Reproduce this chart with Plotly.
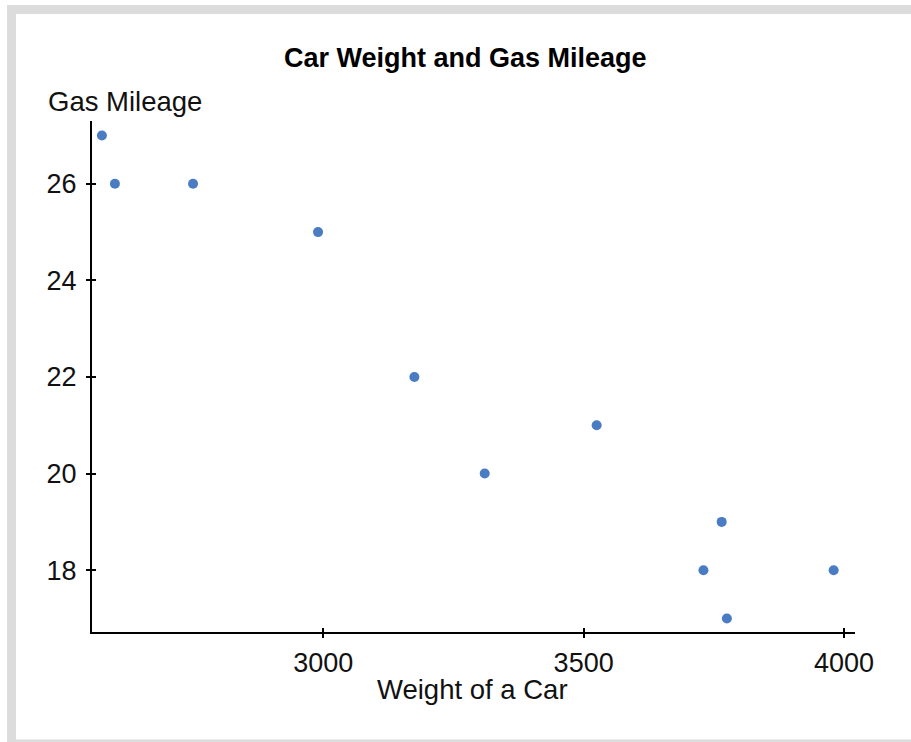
import plotly.graph_objects as go

# Data
weights = [2575, 2600, 2750, 2990, 3175, 3310, 3525, 3765, 3730, 3775, 3980]
mileage = [27, 26, 26, 25, 22, 20, 21, 19, 18, 17, 18]
x_ticks = [3000, 3500, 4000]
y_ticks = [18, 20, 22, 24, 26]

title_text = "Car Weight and Gas Mileage"
x_title = "Weight of a Car"
y_title = "Gas Mileage"

W, H = 911, 742
ML, MR, MT, MB = 92, 56, 121, 110
PW = W - ML - MR
PH = H - MT - MB


def px(xpix):
    return (xpix - ML) / PW


def py(ypix):
    return (H - MB - ypix) / PH


FONT = "Liberation Sans, Arial, sans-serif"
FS = 27
FS_LBL = 27.5

fig = go.Figure()
fig.add_trace(go.Scatter(
    x=weights, y=mileage, mode="markers",
    marker=dict(size=10, color="#4a7cc4"),
    showlegend=False, hoverinfo="x+y",
))

xr = [2556, 4021]
yr = [16.72, 27.30]

axis_common = dict(showgrid=False, zeroline=False,
                   tickfont=dict(family=FONT, size=FS, color="#111"))

fig.update_layout(
    width=W, height=H,
    margin=dict(l=ML, r=MR, t=MT, b=MB, pad=0),
    paper_bgcolor="white", plot_bgcolor="white",
    xaxis=dict(range=xr, tickvals=x_ticks, showline=True, linecolor="#000",
               linewidth=2, ticks="outside", ticklen=4, tickwidth=1.5,
               tickcolor="#000", ticklabelstandoff=2, **axis_common),
    yaxis=dict(range=yr, tickvals=y_ticks, showline=True, linecolor="#000",
               linewidth=2, ticks="outside", ticklen=4, tickwidth=1.5,
               tickcolor="#000", ticklabelstandoff=4, **axis_common),
    xaxis2=dict(range=xr, tickvals=x_ticks, overlaying="x", anchor="y",
                side="bottom", showline=False, ticks="inside", ticklen=4,
                tickwidth=1.5, tickcolor="#000", showticklabels=False,
                showgrid=False, zeroline=False),
    yaxis2=dict(range=yr, tickvals=y_ticks, overlaying="y", anchor="x",
                side="left", showline=False, ticks="inside", ticklen=4,
                tickwidth=1.5, tickcolor="#000", showticklabels=False,
                showgrid=False, zeroline=False),
    shapes=[dict(type="rect", xref="paper", yref="paper",
                 x0=px(11.5), x1=px(925), y0=py(9.5), y1=py(744),
                 line=dict(color="#dcdcdc", width=9), layer="below")],
    annotations=[
        dict(text="<b>" + title_text + "</b>", xref="paper", yref="paper",
             x=px(465), y=py(58), xanchor="center", yanchor="middle",
             showarrow=False, font=dict(family=FONT, size=FS, color="#000")),
        dict(text=y_title, xref="paper", yref="paper",
             x=px(46), y=py(102), xanchor="left", yanchor="middle",
             showarrow=False, font=dict(family=FONT, size=FS_LBL, color="#111")),
        dict(text=x_title, xref="paper", yref="paper",
             x=px(472), y=py(690), xanchor="center", yanchor="middle",
             showarrow=False, font=dict(family=FONT, size=FS_LBL, color="#111")),
    ],
)

# invisible trace to activate the secondary (inside-tick) axes
fig.add_trace(go.Scatter(x=[None], y=[None], xaxis="x2", yaxis="y2",
                         showlegend=False, hoverinfo="skip"))

fig.write_html(
    "out.html",
    config={"displayModeBar": False},
    post_script="document.body.style.margin='0';document.body.style.overflow='hidden';",
)
